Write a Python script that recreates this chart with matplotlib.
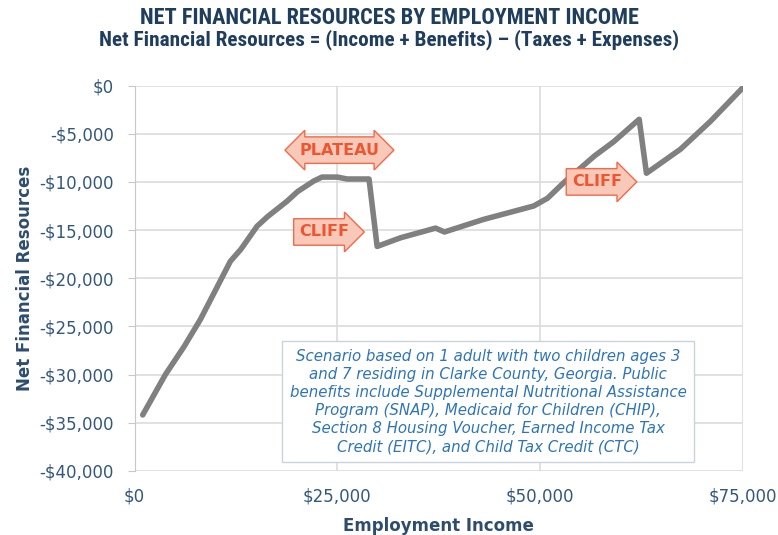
import matplotlib.pyplot as plt
from matplotlib.ticker import FuncFormatter

# employment income ($) and net financial resources ($)
income = [1000, 3800, 6100, 8100, 10000, 11800, 13100, 15100, 16400, 18800,
          20100, 22100, 23100, 25000, 26200, 28900, 29900, 32800, 37100, 38200,
          43000, 49200, 50900, 53000, 56700, 59100, 62200, 63100, 67300, 71000,
          75000]
net_resources = [-34200, -30000, -27100, -24300, -21200, -18250, -17000, -14600,
                 -13600, -12000, -11000, -9900, -9500, -9500, -9700, -9700,
                 -16700, -15800, -14800, -15200, -13900, -12500, -11700, -10000,
                 -7300, -5800, -3500, -9100, -6600, -3700, -200]

x_ticks = [0, 25000, 50000, 75000]
y_ticks = list(range(-40000, 1, 5000))

note = ("Scenario based on 1 adult with two children ages 3\n"
        "and 7 residing in Clarke County, Georgia. Public\n"
        "benefits include Supplemental Nutritional Assistance\n"
        "Program (SNAP), Medicaid for Children (CHIP),\n"
        "Section 8 Housing Voucher, Earned Income Tax\n"
        "Credit (EITC), and Child Tax Credit (CTC)")

navy = "#1F3D5C"
tick_c = "#33587C"
arrow_fill = "#F8C8B9"
arrow_edge = "#F26A48"
arrow_text = "#EE5530"
title_font = ["Roboto Condensed", "Roboto", "DejaVu Sans"]


def money(v, _):
    return f"-${abs(v):,.0f}" if v < 0 else f"${v:,.0f}"


fig = plt.figure(figsize=(7.78, 5.35), dpi=100)
ax = fig.add_axes([0.173, 0.12, 0.782, 0.72])

ax.plot(income, net_resources, color="#808080", lw=4, solid_joinstyle="round",
        solid_capstyle="round", zorder=3)

ax.set_xlim(0, 75000)
ax.set_ylim(-40000, 0)
ax.set_xticks(x_ticks)
ax.set_yticks(y_ticks)
ax.xaxis.set_major_formatter(FuncFormatter(money))
ax.yaxis.set_major_formatter(FuncFormatter(money))
ax.tick_params(axis="both", colors="#C8C8C8", labelcolor=tick_c, labelsize=12)
ax.tick_params(axis="x", length=0, pad=12)
ax.tick_params(axis="y", length=5, pad=10)
ax.grid(color="#DCDCDC", lw=1.2)
ax.set_axisbelow(True)
for s in ["top", "right", "bottom"]:
    ax.spines[s].set_visible(False)
ax.spines["left"].set_color("#C8C8C8")

ax.set_xlabel("Employment Income", fontsize=12, fontweight="bold", color="#2E4D6E",
              labelpad=8)
ax.set_ylabel("Net Financial Resources", fontsize=12, fontweight="bold",
              color="#2E4D6E", labelpad=4)

fig.text(0.5, 0.966, "NET FINANCIAL RESOURCES BY EMPLOYMENT INCOME",
         ha="center", va="center", fontsize=16, fontweight="bold", color=navy,
         family=title_font)
fig.text(0.5, 0.925, "Net Financial Resources = (Income + Benefits) \u2013 (Taxes + Expenses)",
         ha="center", va="center", fontsize=15.3, fontweight="bold", color=navy,
         family=title_font)

arrow_kw = dict(ha="center", va="center", fontsize=11.5, fontweight="semibold",
                color=arrow_text, zorder=5)
ax.text(25300, -6700, "PLATEAU",
        bbox=dict(boxstyle="darrow,pad=0.36", fc=arrow_fill, ec=arrow_edge, lw=1),
        **arrow_kw)
ax.text(23400, -15200, "CLIFF",
        bbox=dict(boxstyle="rarrow,pad=0.36", fc=arrow_fill, ec=arrow_edge, lw=1),
        **arrow_kw)
ax.text(57000, -10000, "CLIFF",
        bbox=dict(boxstyle="rarrow,pad=0.36", fc=arrow_fill, ec=arrow_edge, lw=1),
        **arrow_kw)

ax.text(43600, -32800, note, ha="center", va="center", fontsize=10.8,
        style="italic", color="#2E75B6", linespacing=1.26, zorder=6,
        bbox=dict(boxstyle="square,pad=0.5", fc="white", ec="#C9D3DD", lw=1))

fig.savefig("out.png", dpi=100)
